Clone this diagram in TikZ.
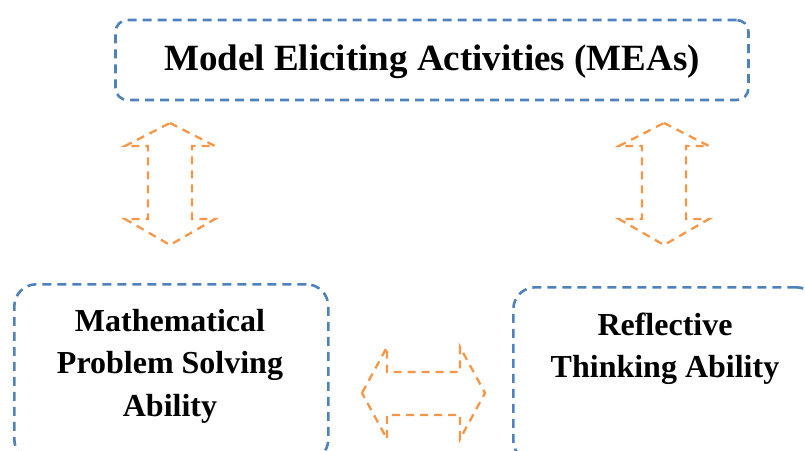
\documentclass[tikz,border=0pt]{standalone}
\usepackage{fontspec}
\setmainfont{Liberation Serif}
\definecolor{boxblue}{HTML}{4F81BD}
\definecolor{arrorange}{HTML}{F79646}
\begin{document}
\begin{tikzpicture}[x=1pt,y=-1pt,
  bluebox/.style={draw=boxblue, line width=2.6pt, dash pattern=on 9pt off 6pt, rectangle, inner sep=0pt},
  orangearrow/.style={draw=arrorange, line width=2.3pt, dash pattern=on 8pt off 6pt, line join=miter},
  titletext/.style={font=\bfseries\fontsize{37}{44}\selectfont},
  boxtext/.style={align=center, font=\bfseries\fontsize{32}{42.5}\selectfont}]
\useasboundingbox (0,0) rectangle (805,450);
\begin{scope}
\clip (0,0) rectangle (805,450);
% boxes
\node[bluebox, rounded corners=12pt, minimum width=633pt, minimum height=80pt] (mea) at (432,60) {};
\node[titletext] (meatext) at (432,62) {Model Eliciting Activities (MEAs)};
\node[bluebox, rounded corners=22pt, minimum width=314pt, minimum height=177pt, anchor=north west] (mps) at (13,283) {};
\node[boxtext] (mpstext) at (170,366) {Mathematical\\Problem Solving\\Ability};
\node[bluebox, rounded corners=22pt, minimum width=305pt, minimum height=175pt, anchor=north west] (rta) at (512,286) {};
\node[boxtext] (rtatext) at (665,349) {Reflective\\Thinking Ability};
% vertical double arrows
\draw[orangearrow] (170,123) -- (215,146) -- (192,146) -- (192,219) -- (215,219) -- (170,245) -- (125,219) -- (148,219) -- (148,146) -- (125,146) -- cycle;
\draw[orangearrow] (664,123) -- (709,146) -- (686,146) -- (686,219) -- (709,219) -- (664,245) -- (619,219) -- (642,219) -- (642,146) -- (619,146) -- cycle;
% horizontal double arrow
\draw[orangearrow] (362,393) -- (387,347) -- (387,372) -- (460,372) -- (460,347) -- (485,393) -- (460,439) -- (460,415) -- (387,415) -- (387,439) -- cycle;
\end{scope}
\end{tikzpicture}
\end{document}
